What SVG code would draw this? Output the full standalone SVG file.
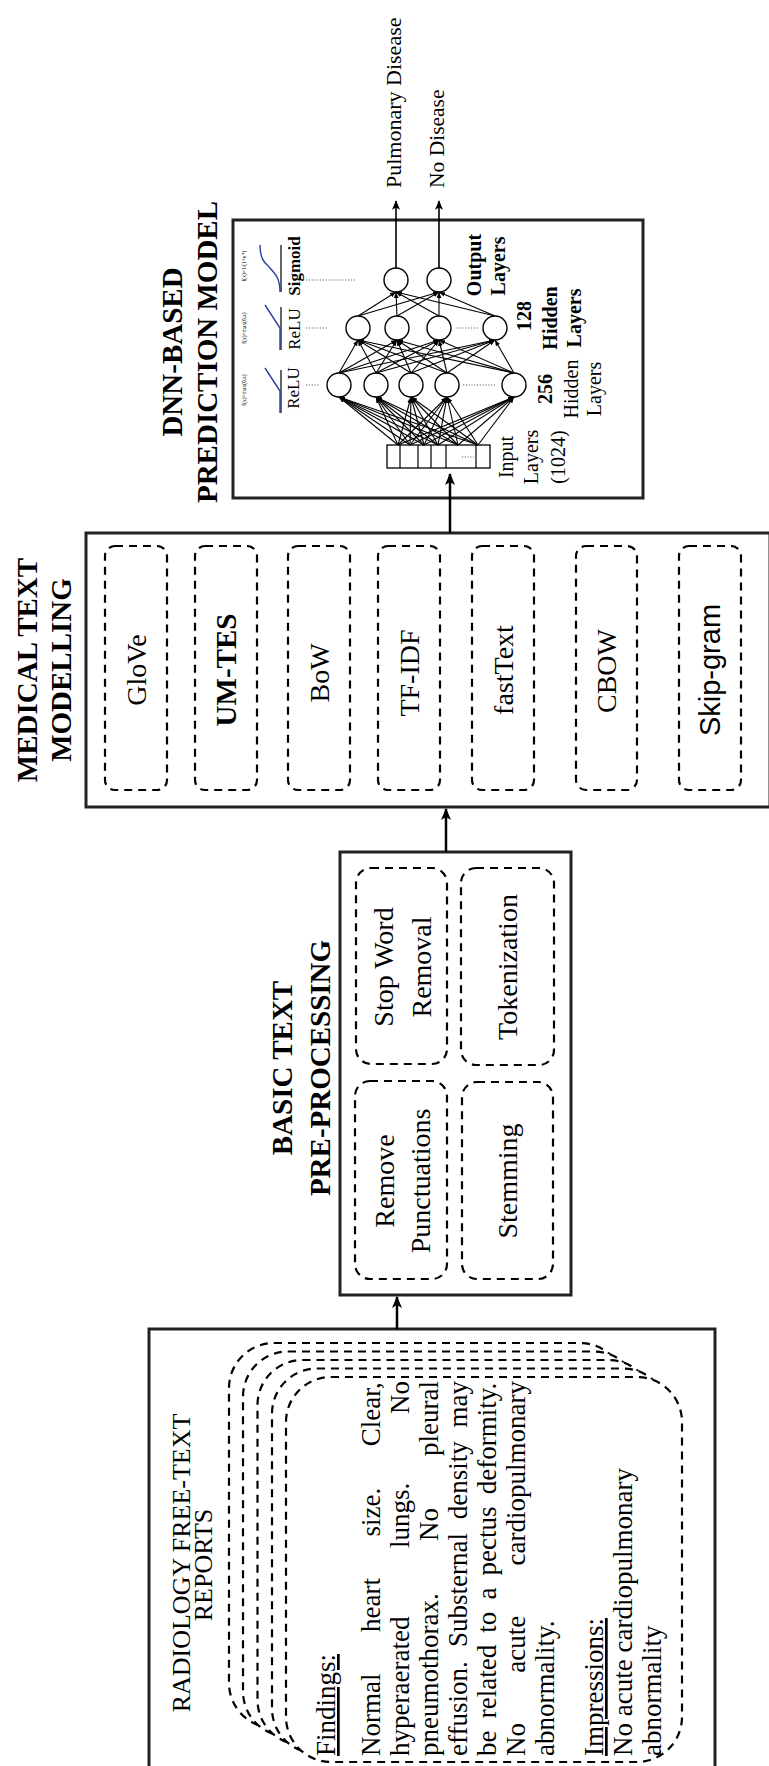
<svg xmlns="http://www.w3.org/2000/svg" width="769" height="1766" viewBox="0 0 769 1766">
<defs>
<style>
.box{fill:#fff;stroke:#222;stroke-width:3}
.dash{fill:#fff;stroke:#000;stroke-width:2.2;stroke-dasharray:8 6}
.t{font-family:"Liberation Serif","Times New Roman",serif;fill:#000}
.s{font-family:"Liberation Sans",Arial,sans-serif;fill:#000}
.b{font-weight:bold}
.arrow{stroke:#000;stroke-width:2.5;fill:none;marker-end:url(#ah)}
.arrow2{stroke:#000;stroke-width:1.6;fill:none;marker-end:url(#ah2)}
.nn{stroke:#000;stroke-width:1.1;fill:none;marker-end:url(#sm)}
.node{fill:#fff;stroke:#000;stroke-width:1.4}
.dot{stroke:#666;stroke-width:1.2;stroke-dasharray:1.2 1.6;fill:none}
.blue{stroke:#2b3f9e;stroke-width:1.4;fill:none}
.ax{stroke:#000;stroke-width:1.2;fill:none}
</style>
<marker id="ah" viewBox="0 0 12 10" markerWidth="12" markerHeight="10" refX="11" refY="5" orient="auto" markerUnits="userSpaceOnUse"><path d="M0,0 L12,5 L0,10 L3,5 z" fill="#000"/></marker>
<marker id="ah2" viewBox="0 0 12 10" markerWidth="10" markerHeight="8" refX="11" refY="5" orient="auto" markerUnits="userSpaceOnUse"><path d="M0,0 L12,5 L0,10 L3,5 z" fill="#000"/></marker>
<marker id="sm" viewBox="0 0 10 8" markerWidth="6" markerHeight="5" refX="10" refY="4" orient="auto" markerUnits="userSpaceOnUse"><path d="M0,0 L10,4 L0,8 z" fill="#000"/></marker>
</defs>
<rect width="769" height="1766" fill="#fff"/>

<!-- RADIOLOGY FREE-TEXT REPORTS -->
<g id="radiology">
<rect class="box" x="149" y="1329" width="566" height="440"/>
<text class="t" font-size="26" text-anchor="middle" transform="translate(190,1563) rotate(-90)">RADIOLOGY FREE-TEXT</text>
<text class="t" font-size="26" text-anchor="middle" transform="translate(212,1565) rotate(-90)">REPORTS</text>
<rect class="dash" x="229" y="1343" width="396" height="385" rx="45"/>
<rect class="dash" x="243" y="1351.5" width="396" height="385" rx="45"/>
<rect class="dash" x="257.5" y="1360" width="396" height="385" rx="45"/>
<rect class="dash" x="272" y="1368.5" width="396" height="385" rx="45"/>
<rect class="dash" x="286" y="1377" width="396" height="385" rx="45"/>
<g class="t" font-size="27" transform="translate(0,1756) rotate(-90)">
<text x="0" y="335" text-decoration="underline">Findings:</text>
<text y="380"><tspan x="0">Normal</tspan><tspan x="124">heart</tspan><tspan x="219.5">size.</tspan><tspan x="309.7">Clear,</tspan></text>
<text y="409"><tspan x="0">hyperaerated</tspan><tspan x="208">lungs.</tspan><tspan x="342">No</tspan></text>
<text y="438"><tspan x="0">pneumothorax.</tspan><tspan x="214.9">No</tspan><tspan x="300">pleural</tspan></text>
<text y="467"><tspan x="0">effusion.</tspan><tspan x="109">Substernal</tspan><tspan x="236.8">density</tspan><tspan x="328.5">may</tspan></text>
<text y="496"><tspan x="0">be</tspan><tspan x="37.7">related</tspan><tspan x="123.3">to</tspan><tspan x="156.5">a</tspan><tspan x="180.6">pectus</tspan><tspan x="261.8">deformity.</tspan></text>
<text y="525"><tspan x="0">No</tspan><tspan x="83.25">acute</tspan><tspan x="190.5">cardiopulmonary</tspan></text>
<text x="0" y="554">abnormality.</text>
<text x="0" y="603" text-decoration="underline">Impressions:</text>
<text x="0" y="632">No acute cardiopulmonary</text>
<text x="0" y="661">abnormality</text>
</g>
</g>

<!-- BASIC TEXT PRE-PROCESSING -->
<g id="preprocessing">
<rect class="box" x="340" y="852" width="231" height="443"/>
<text class="t b" font-size="29" text-anchor="middle" transform="translate(292,1068) rotate(-90)">BASIC TEXT</text>
<text class="t b" font-size="29" text-anchor="middle" transform="translate(330,1068) rotate(-90)">PRE-PROCESSING</text>
<rect class="dash" x="356" y="868" width="91" height="196" rx="15"/>
<rect class="dash" x="461" y="868" width="93" height="197" rx="15"/>
<rect class="dash" x="355" y="1081" width="92" height="198" rx="15"/>
<rect class="dash" x="462" y="1082" width="91" height="197" rx="15"/>
<text class="t" font-size="28" text-anchor="middle" transform="translate(393,967) rotate(-90)">Stop Word</text>
<text class="t" font-size="28" text-anchor="middle" transform="translate(431,967) rotate(-90)">Removal</text>
<text class="t" font-size="28" text-anchor="middle" transform="translate(517,967) rotate(-90)">Tokenization</text>
<text class="t" font-size="28" text-anchor="middle" transform="translate(394,1181) rotate(-90)">Remove</text>
<text class="t" font-size="28" text-anchor="middle" transform="translate(430,1181) rotate(-90)">Punctuations</text>
<text class="t" font-size="28" text-anchor="middle" transform="translate(517,1181) rotate(-90)">Stemming</text>
</g>

<!-- MEDICAL TEXT MODELLING -->
<g id="modelling">
<rect class="box" x="86" y="533" width="684" height="274"/>
<text class="t b" font-size="29" text-anchor="middle" transform="translate(37,670) rotate(-90)">MEDICAL TEXT</text>
<text class="t b" font-size="29" text-anchor="middle" transform="translate(71,670) rotate(-90)">MODELLING</text>
<rect class="dash" x="105" y="546" width="62" height="244" rx="10"/>
<rect class="dash" x="195" y="546" width="62" height="244" rx="10"/>
<rect class="dash" x="288" y="546" width="62" height="244" rx="10"/>
<rect class="dash" x="378" y="546" width="62" height="244" rx="10"/>
<rect class="dash" x="472" y="546" width="62" height="244" rx="10"/>
<rect class="dash" x="576" y="546" width="61" height="244" rx="10"/>
<rect class="dash" x="679" y="546" width="62" height="244" rx="10"/>
<text class="t" font-size="28" text-anchor="middle" transform="translate(146,670) rotate(-90)">GloVe</text>
<text class="t b" font-size="29" text-anchor="middle" transform="translate(236,670) rotate(-90)">UM-TES</text>
<text class="t" font-size="28" text-anchor="middle" transform="translate(329,673) rotate(-90)">BoW</text>
<text class="t" font-size="28" text-anchor="middle" transform="translate(419,673) rotate(-90)">TF-IDF</text>
<text class="t" font-size="28" text-anchor="middle" transform="translate(513,670) rotate(-90)">fastText</text>
<text class="t" font-size="28" text-anchor="middle" transform="translate(616,671) rotate(-90)">CBOW</text>
<text class="s" font-size="29" text-anchor="middle" transform="translate(720,670) rotate(-90)">Skip-gram</text>
</g>

<!-- DNN-BASED PREDICTION MODEL -->
<g id="dnn">
<rect class="box" x="233" y="220" width="410" height="278"/>
<text class="t b" font-size="29" text-anchor="middle" transform="translate(182,352) rotate(-90)">DNN-BASED</text>
<text class="t b" font-size="29" text-anchor="middle" transform="translate(217,352) rotate(-90)">PREDICTION MODEL</text>
<line class="ax" x1="281" y1="370" x2="281" y2="413"/>
<polyline class="blue" points="280,413 280,391 265,368"/>
<line class="ax" x1="281" y1="307" x2="281" y2="350"/>
<polyline class="blue" points="280,350 280,328 265,305"/>
<line class="ax" x1="281" y1="245" x2="281" y2="292"/>
<path class="blue" d="M280,292 C280,276 273,272 270,268 C267,264 260,262 260,245"/>
<text class="t" font-size="5.5" text-anchor="middle" transform="translate(246,390) rotate(-90)">f(x)=max(0,x)</text>
<text class="t" font-size="5.5" text-anchor="middle" transform="translate(246,328) rotate(-90)">f(x)=max(0,x)</text>
<text class="t" font-size="5.5" text-anchor="middle" transform="translate(246,266) rotate(-90)">f(x)=1/(1+e<tspan font-size="4" dy="-2">-x</tspan><tspan dy="2">)</tspan></text>
<text class="t" font-size="17" text-anchor="middle" transform="translate(299,388) rotate(-90)">ReLU</text>
<text class="t" font-size="17" text-anchor="middle" transform="translate(300,329) rotate(-90)">ReLU</text>
<text class="t b" font-size="17" text-anchor="middle" transform="translate(300,266) rotate(-90)">Sigmoid</text>
<line class="dot" x1="306" y1="385" x2="320" y2="385"/>
<line class="dot" x1="306" y1="328" x2="328" y2="328"/>
<line class="dot" x1="306" y1="280" x2="356" y2="280"/>
<line class="dot" x1="463" y1="385" x2="496" y2="385"/>
<line class="dot" x1="457" y1="328" x2="478" y2="328"/>
<rect x="387" y="445" width="103" height="23" fill="#fff" stroke="#000" stroke-width="1.3"/>
<path d="M400,445V468M418,445V468M431,445V468M446,445V468M476,445V468" stroke="#000" stroke-width="1.2"/>
<line class="dot" x1="462" y1="457" x2="474" y2="457"/>
<text class="t b" font-size="20" text-anchor="middle" transform="translate(481,265) rotate(-90)">Output</text>
<text class="t b" font-size="20" text-anchor="middle" transform="translate(505,266) rotate(-90)">Layers</text>
<text class="t b" font-size="20" text-anchor="middle" transform="translate(531,316) rotate(-90)">128</text>
<text class="t b" font-size="20" text-anchor="middle" transform="translate(557,318) rotate(-90)">Hidden</text>
<text class="t b" font-size="20" text-anchor="middle" transform="translate(581,318) rotate(-90)">Layers</text>
<text class="t b" font-size="20" text-anchor="middle" transform="translate(552,389) rotate(-90)">256</text>
<text class="t" font-size="20" text-anchor="middle" transform="translate(578,389) rotate(-90)">Hidden</text>
<text class="t" font-size="20" text-anchor="middle" transform="translate(601,389) rotate(-90)">Layers</text>
<text class="t" font-size="20" text-anchor="middle" transform="translate(513,457) rotate(-90)">Input</text>
<text class="t" font-size="20" text-anchor="middle" transform="translate(538,457) rotate(-90)">Layers</text>
<text class="t" font-size="20" text-anchor="middle" transform="translate(565,457) rotate(-90)">(1024)</text>
<text class="t" font-size="22" transform="translate(401,188) rotate(-90)">Pulmonary Disease</text>
<text class="t" font-size="21.5" transform="translate(444,188) rotate(-90)">No Disease</text>
</g>

<g id="dnn-links">
<g id="in-h1">
<line class="nn" x1="398" y1="445" x2="339" y2="397"/><line class="nn" x1="410" y1="445" x2="339" y2="397"/><line class="nn" x1="424" y1="445" x2="339" y2="397"/><line class="nn" x1="438" y1="445" x2="339" y2="397"/><line class="nn" x1="458" y1="445" x2="339" y2="397"/><line class="nn" x1="478" y1="445" x2="339" y2="397"/>
<line class="nn" x1="398" y1="445" x2="376" y2="397"/><line class="nn" x1="410" y1="445" x2="376" y2="397"/><line class="nn" x1="424" y1="445" x2="376" y2="397"/><line class="nn" x1="438" y1="445" x2="376" y2="397"/><line class="nn" x1="458" y1="445" x2="376" y2="397"/><line class="nn" x1="478" y1="445" x2="376" y2="397"/>
<line class="nn" x1="398" y1="445" x2="411" y2="397"/><line class="nn" x1="410" y1="445" x2="411" y2="397"/><line class="nn" x1="424" y1="445" x2="411" y2="397"/><line class="nn" x1="438" y1="445" x2="411" y2="397"/><line class="nn" x1="458" y1="445" x2="411" y2="397"/><line class="nn" x1="478" y1="445" x2="411" y2="397"/>
<line class="nn" x1="398" y1="445" x2="447" y2="397"/><line class="nn" x1="410" y1="445" x2="447" y2="397"/><line class="nn" x1="424" y1="445" x2="447" y2="397"/><line class="nn" x1="438" y1="445" x2="447" y2="397"/><line class="nn" x1="458" y1="445" x2="447" y2="397"/><line class="nn" x1="478" y1="445" x2="447" y2="397"/>
<line class="nn" x1="398" y1="445" x2="514" y2="397"/><line class="nn" x1="410" y1="445" x2="514" y2="397"/><line class="nn" x1="424" y1="445" x2="514" y2="397"/><line class="nn" x1="438" y1="445" x2="514" y2="397"/><line class="nn" x1="458" y1="445" x2="514" y2="397"/><line class="nn" x1="478" y1="445" x2="514" y2="397"/>
</g>
<g id="h1-h2">
<line class="nn" x1="339" y1="373" x2="358" y2="340"/><line class="nn" x1="376" y1="373" x2="358" y2="340"/><line class="nn" x1="411" y1="373" x2="358" y2="340"/><line class="nn" x1="447" y1="373" x2="358" y2="340"/><line class="nn" x1="514" y1="373" x2="358" y2="340"/>
<line class="nn" x1="339" y1="373" x2="397" y2="340"/><line class="nn" x1="376" y1="373" x2="397" y2="340"/><line class="nn" x1="411" y1="373" x2="397" y2="340"/><line class="nn" x1="447" y1="373" x2="397" y2="340"/><line class="nn" x1="514" y1="373" x2="397" y2="340"/>
<line class="nn" x1="339" y1="373" x2="439" y2="340"/><line class="nn" x1="376" y1="373" x2="439" y2="340"/><line class="nn" x1="411" y1="373" x2="439" y2="340"/><line class="nn" x1="447" y1="373" x2="439" y2="340"/><line class="nn" x1="514" y1="373" x2="439" y2="340"/>
<line class="nn" x1="339" y1="373" x2="495" y2="340"/><line class="nn" x1="376" y1="373" x2="495" y2="340"/><line class="nn" x1="411" y1="373" x2="495" y2="340"/><line class="nn" x1="447" y1="373" x2="495" y2="340"/><line class="nn" x1="514" y1="373" x2="495" y2="340"/>
</g>
<g id="h2-out">
<line class="nn" x1="358" y1="316" x2="396" y2="292"/><line class="nn" x1="397" y1="316" x2="396" y2="292"/><line class="nn" x1="439" y1="316" x2="396" y2="292"/><line class="nn" x1="495" y1="316" x2="396" y2="292"/>
<line class="nn" x1="358" y1="316" x2="439" y2="292"/><line class="nn" x1="397" y1="316" x2="439" y2="292"/><line class="nn" x1="439" y1="316" x2="439" y2="292"/><line class="nn" x1="495" y1="316" x2="439" y2="292"/>
</g>
</g>

<g id="dnn-nodes">
<circle class="node" cx="396" cy="280" r="12"/><circle class="node" cx="439" cy="280" r="12"/>
<circle class="node" cx="358" cy="328" r="12"/><circle class="node" cx="397" cy="328" r="12"/><circle class="node" cx="439" cy="328" r="12"/><circle class="node" cx="495" cy="328" r="12"/>
<circle class="node" cx="339" cy="385" r="12"/><circle class="node" cx="376" cy="385" r="12"/><circle class="node" cx="411" cy="385" r="12"/><circle class="node" cx="447" cy="385" r="12"/><circle class="node" cx="514" cy="385" r="12"/>
</g>

<g id="connectors">
<line class="arrow" x1="397" y1="1329" x2="397" y2="1297"/>
<line class="arrow" x1="446" y1="852" x2="446" y2="809"/>
<line class="arrow" x1="450" y1="533" x2="450" y2="474"/>
<line class="arrow2" x1="396" y1="268" x2="396" y2="201"/>
<line class="arrow2" x1="439" y1="268" x2="439" y2="201"/>
</g>
</svg>
